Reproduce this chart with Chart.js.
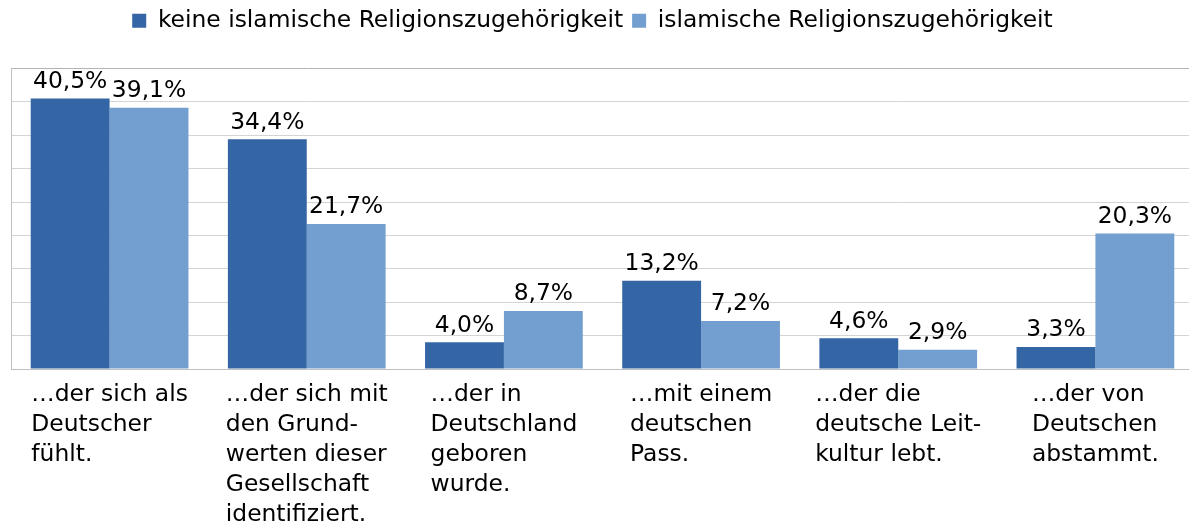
<!DOCTYPE html>
<html><head><meta charset="utf-8">
<script src="https://cdn.jsdelivr.net/npm/chart.js@4/dist/chart.umd.min.js"></script>
<style>html,body{margin:0;padding:0;background:#fff;overflow:hidden}#wrap{width:1195px;height:522px}</style>
</head><body><div id="wrap"><canvas id="c" width="1195" height="522"></canvas></div>
<script>
const categories = [
  ["…der sich als","Deutscher","fühlt."],
  ["…der sich mit","den Grund-","werten dieser","Gesellschaft","identifiziert."],
  ["…der in","Deutschland","geboren","wurde."],
  ["…mit einem","deutschen","Pass."],
  ["…der die","deutsche Leit-","kultur lebt."],
  ["…der von","Deutschen","abstammt."]
];
const seriesNames = ["keine islamische Religionszugehörigkeit","islamische Religionszugehörigkeit"];
const keineIslam = [40.5, 34.4, 4.0, 13.2, 4.6, 3.3];
const islam = [39.1, 21.7, 8.7, 7.2, 2.9, 20.3];
const FONT = "'DejaVu Sans', sans-serif";
const FS = 23.4;

const fmt = v => v.toFixed(1).replace('.', ',') + '%';

const legendGap = {
  id: 'legendGap',
  beforeInit(chart) {
    const orig = chart.legend.fit;
    chart.legend.fit = function () { orig.bind(chart.legend)(); this.height += 26; };
  },
  afterLayout(chart) {
    chart.legend.left -= 10;
    chart.legend.right -= 10;
  }
};

const labelsPlugin = {
  id: 'customLabels',
  afterDatasetsDraw(chart) {
    const ctx = chart.ctx;
    ctx.save();
    ctx.font = FS + "px " + FONT;
    ctx.fillStyle = '#000';
    ctx.textAlign = 'center';
    ctx.textBaseline = 'bottom';
    chart.data.datasets.forEach((ds, di) => {
      const meta = chart.getDatasetMeta(di);
      meta.data.forEach((el, i) => {
        ctx.fillText(fmt(ds.data[i]), el.x, el.y - 5);
      });
    });
    const xs = chart.scales.x;
    const bottom = chart.chartArea.bottom;
    ctx.textAlign = 'left';
    ctx.textBaseline = 'middle';
    categories.forEach((lines, i) => {
      const cx = xs.getPixelForTick(i);
      const w = Math.max(...lines.map(l => ctx.measureText(l).width));
      const x0 = cx - w / 2;
      lines.forEach((l, k) => ctx.fillText(l, x0, bottom + 26 + k * 30));
    });
    ctx.restore();
  }
};

new Chart(document.getElementById('c'), {
  type: 'bar',
  data: {
    labels: categories.map(c => c.join(' ')),
    datasets: [
      { label: seriesNames[0], data: keineIslam, backgroundColor: '#3465a4', borderWidth: 0 },
      { label: seriesNames[1], data: islam, backgroundColor: '#729fcf', borderWidth: 0 }
    ]
  },
  options: {
    responsive: false,
    animation: false,
    devicePixelRatio: 1,
    layout: { padding: { left: 11, right: 1, top: 0, bottom: 153 } },
    datasets: { bar: { categoryPercentage: 0.8, barPercentage: 1.0 } },
    plugins: {
      legend: {
        position: 'top',
        labels: {
          font: { family: FONT, size: FS },
          color: '#000',
          boxWidth: 14,
          boxHeight: 14,
          padding: 9
        }
      },
      tooltip: { enabled: false }
    },
    scales: {
      x: {
        ticks: { display: false },
        grid: { display: false, drawTicks: false },
        border: { display: false }
      },
      y: {
        min: 0, max: 45,
        ticks: { display: false, stepSize: 5 },
        grid: {
          drawTicks: false,
          color: c => (c.tick && c.tick.value === 45) ? '#b3b3b3' : (c.tick && c.tick.value === 0 ? '#c0c0c0' : '#d4d4d4'),
          lineWidth: 1
        },
        border: { display: true, color: '#c0c0c0' }
      }
    }
  },
  plugins: [legendGap, labelsPlugin]
});
</script></body></html>
